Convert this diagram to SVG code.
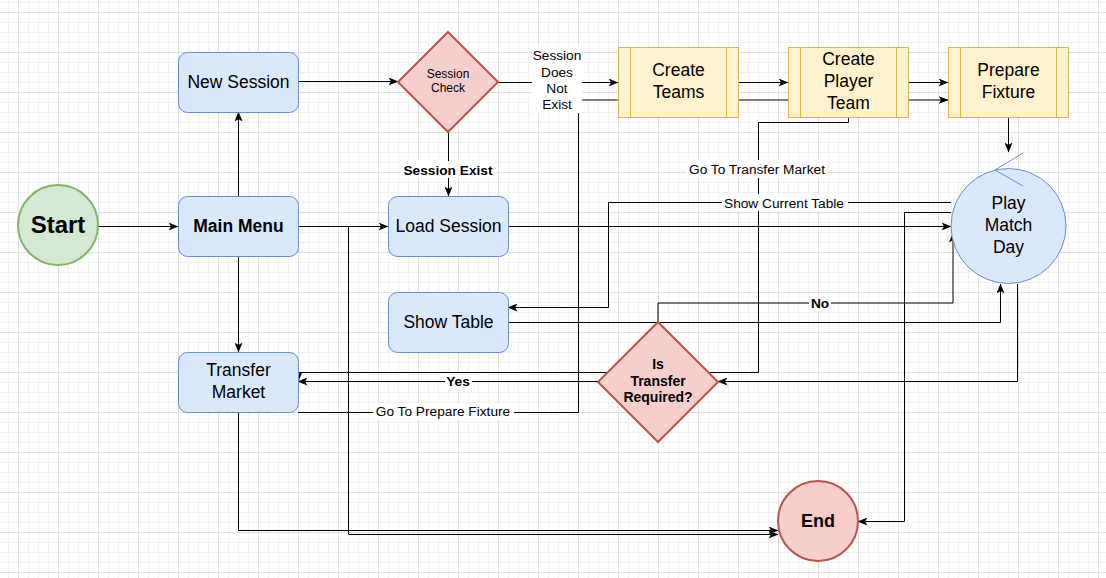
<svg xmlns="http://www.w3.org/2000/svg" width="1106" height="578" viewBox="0 0 1106 578">
<style>
text{font-family:"Liberation Sans",Arial,sans-serif;fill:#000;text-anchor:middle}
.n{font-size:17.5px}
.b{font-weight:bold}
.s{font-size:13.7px}
.blue{fill:#dae8fc;stroke:#6c8ebf;stroke-width:1}
.yel{fill:#fff2cc;stroke:#d6b656;stroke-width:1}
.red{fill:#f8cecc;stroke:#b85450;stroke-width:2}
.grn{fill:#d5e8d4;stroke:#82b366;stroke-width:2}
.e{fill:none;stroke:#000;stroke-width:1}
.ea{fill:none;stroke:#000;stroke-width:1;marker-end:url(#arr)}
.lbg{fill:#fff}
</style>
<defs>
<marker id="arr" viewBox="0 0 10 8" refX="9.5" refY="4" markerWidth="10" markerHeight="8" markerUnits="userSpaceOnUse" orient="auto">
<path d="M0,0 L10,4 L0,8 L2.5,4 z" fill="#000"/>
</marker>
<pattern id="minor" patternUnits="userSpaceOnUse" x="8" y="2" width="10" height="10">
<path d="M0.5,0 V10 M0,0.5 H10" stroke="#f2f2f2" stroke-width="1" fill="none"/>
</pattern>
<pattern id="major" patternUnits="userSpaceOnUse" x="18" y="12" width="40" height="40">
<path d="M0.5,0 V40 M0,0.5 H40" stroke="#e0e0e0" stroke-width="1" fill="none"/>
</pattern>
</defs>
<rect width="1106" height="578" fill="#fff"/>
<rect width="1106" height="578" fill="url(#minor)"/>
<rect width="1106" height="578" fill="url(#major)"/>

<g id="connectors">
<path class="ea" d="M98,226.5 H178"/>
<path class="ea" d="M238.5,196 V112"/>
<path class="ea" d="M238.5,256 V352"/>
<path class="ea" d="M298,81.5 H398"/>
<path class="ea" d="M448.5,132 V196"/>
<path class="ea" d="M498,82.5 H618"/>
<path class="ea" d="M738,82.5 H788"/>
<path class="ea" d="M908,82.5 H948"/>
<path class="ea" d="M1008.5,117 V152"/>
<path class="ea" d="M298,226.5 H388"/>
<path class="ea" d="M508,226.5 H951"/>
<path class="ea" d="M298,226.5 H348.5 V534.5 H778"/>
<path class="ea" d="M238.5,412 V530.5 H778"/>
<path class="ea" d="M508,322.5 H1000.5 V284"/>
<path class="ea" d="M1017.5,284 V381.5 H718"/>
<path class="ea" d="M598,381.5 H298"/>
<path class="ea" d="M658,322 V303 H953 V233"/>
<path class="ea" d="M951,202.5 H608.5 V307.5 H508"/>
<path class="ea" d="M951,212.5 H904.5 V521.5 H858"/>
<path class="ea" d="M848.5,117 V122.5 H758.5 V372.5 H298.5 V381"/>
<path class="ea" d="M298,412.5 H578.5 V100 H948"/>
<g id="labels">
<rect class="lbg" x="401" y="161" width="94" height="17"/>
<text class="s b" x="448" y="175">Session Exist</text>
<rect class="lbg" x="532" y="46" width="50" height="67"/>
<text class="s" x="557" y="60">Session</text>
<text class="s" x="557" y="77">Does</text>
<text class="s" x="557" y="93">Not</text>
<text class="s" x="557" y="109">Exist</text>
<rect class="lbg" x="686" y="160" width="142" height="18"/>
<text class="s" x="757" y="174">Go To Transfer Market</text>
<rect class="lbg" x="722" y="194" width="126" height="17"/>
<text class="s" x="784" y="208">Show Current Table</text>
<rect class="lbg" x="809" y="295" width="22" height="16"/>
<text class="s b" x="820" y="308">No</text>
<rect class="lbg" x="445" y="373" width="27" height="16"/>
<text class="s b" x="458" y="386">Yes</text>
<rect class="lbg" x="373" y="403" width="141" height="17"/>
<text class="s" x="443" y="416">Go To Prepare Fixture</text>
</g>
</g>

<g id="start">
<circle class="grn" cx="58" cy="225" r="40"/>
<text class="b" x="58" y="233" style="font-size:24px">Start</text>
</g>
<g id="new-session">
<rect class="blue" x="178.5" y="52.5" width="120" height="60" rx="9"/>
<text class="n" x="238.5" y="88">New Session</text>
</g>
<g id="main-menu">
<rect class="blue" x="178.5" y="196.5" width="120" height="60" rx="9"/>
<text class="n b" x="238.5" y="232">Main Menu</text>
</g>
<g id="transfer-market">
<rect class="blue" x="178.5" y="352.5" width="120" height="60" rx="9"/>
<text class="n" x="238.5" y="376">Transfer</text>
<text class="n" x="238.5" y="398">Market</text>
</g>
<g id="load-session">
<rect class="blue" x="388.5" y="196.5" width="120" height="60" rx="9"/>
<text class="n" x="448.5" y="232">Load Session</text>
</g>
<g id="show-table">
<rect class="blue" x="388.5" y="292.5" width="120" height="60" rx="9"/>
<text class="n" x="448.5" y="328">Show Table</text>
</g>
<g id="session-check">
<polygon class="red" points="448,32 498,82 448,132 398,82"/>
<text x="448" y="78" style="font-size:12px">Session</text>
<text x="448" y="92" style="font-size:12px">Check</text>
</g>
<g id="create-teams">
<rect class="yel" x="618.5" y="47.5" width="120" height="70"/>
<path d="M630.5,47.5 V117.5 M726.5,47.5 V117.5" stroke="#d6b656" fill="none"/>
<text class="n" x="678.5" y="76">Create</text>
<text class="n" x="678.5" y="98">Teams</text>
</g>
<g id="create-player-team">
<rect class="yel" x="788.5" y="47.5" width="120" height="70"/>
<path d="M800.5,47.5 V117.5 M896.5,47.5 V117.5" stroke="#d6b656" fill="none"/>
<text class="n" x="848.5" y="65">Create</text>
<text class="n" x="848.5" y="87">Player</text>
<text class="n" x="848.5" y="109">Team</text>
</g>
<g id="prepare-fixture">
<rect class="yel" x="948.5" y="47.5" width="120" height="70"/>
<path d="M960.5,47.5 V117.5 M1056.5,47.5 V117.5" stroke="#d6b656" fill="none"/>
<text class="n" x="1008.5" y="76">Prepare</text>
<text class="n" x="1008.5" y="98">Fixture</text>
</g>
<g id="play-match-day">
<circle class="blue" cx="1008.5" cy="226" r="57.5"/>
<polyline points="1023,153 995,170 1023,186" fill="none" stroke="#6c8ebf" stroke-width="1"/>
<text class="n" x="1008.5" y="209">Play</text>
<text class="n" x="1008.5" y="231">Match</text>
<text class="n" x="1008.5" y="253">Day</text>
</g>
<g id="is-transfer-required">
<polygon class="red" points="658,322 718,382 658,442 598,382"/>
<text class="b" x="658" y="369" style="font-size:14px">Is</text>
<text class="b" x="658" y="386" style="font-size:14px">Transfer</text>
<text class="b" x="658" y="402" style="font-size:14px">Required?</text>
</g>
<g id="end">
<circle class="red" cx="818" cy="521" r="40"/>
<text class="b" x="818" y="527" style="font-size:18px">End</text>
</g>
</svg>
